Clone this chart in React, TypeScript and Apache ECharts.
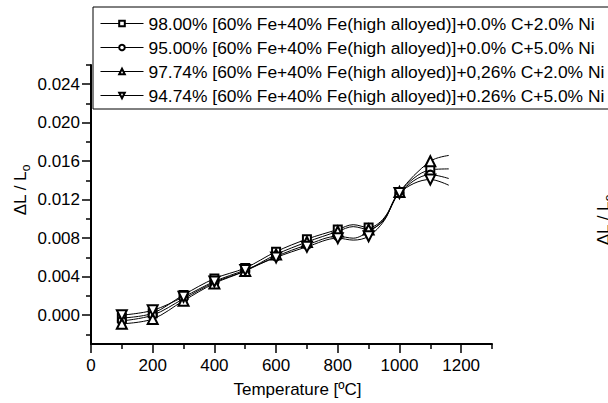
import React, { useEffect, useRef } from 'react';
import * as echarts from 'echarts';

const temperatures = [100, 200, 300, 400, 500, 600, 700, 800, 850, 900, 950, 1000, 1100, 1160];
const markedTemperatures = [100, 200, 300, 400, 500, 600, 700, 800, 900, 1000, 1100];

const seriesNames = [
  '98.00% [60% Fe+40% Fe(high alloyed)]+0.0% C+2.0% Ni',
  '95.00% [60% Fe+40% Fe(high alloyed)]+0.0% C+5.0% Ni',
  '97.74% [60% Fe+40% Fe(high alloyed)]+0,26% C+2.0% Ni',
  '94.74% [60% Fe+40% Fe(high alloyed)]+0.26% C+5.0% Ni',
];

const fe98Ni2 = [-0.0003, 0.0002, 0.0021, 0.0038, 0.0049, 0.0066, 0.0079, 0.0089, 0.0094, 0.0091, 0.0101, 0.0128, 0.0151, 0.0152];
const fe95Ni5 = [-0.0006, 0.0000, 0.0017, 0.0034, 0.0046, 0.0061, 0.0073, 0.0082, 0.0080, 0.0087, 0.0099, 0.0127, 0.0146, 0.0142];
const fe9774C026Ni2 = [-0.0009, -0.0004, 0.0015, 0.0033, 0.0046, 0.0063, 0.0076, 0.0087, 0.0092, 0.0089, 0.0100, 0.0128, 0.0160, 0.0166];
const fe9474C026Ni5 = [0.0000, 0.0005, 0.0019, 0.0035, 0.0047, 0.0060, 0.0071, 0.0080, 0.0078, 0.0082, 0.0098, 0.0127, 0.0141, 0.0135];

const xMajorTicks = [0, 200, 400, 600, 800, 1000, 1200];
const xMinorTicks = [100, 300, 500, 700, 900, 1100, 1300];
const yMajorTicks = [0, 0.004, 0.008, 0.012, 0.016, 0.02, 0.024];
const yMinorTicks = [-0.002, 0.002, 0.006, 0.01, 0.014, 0.018, 0.022, 0.026];

const seriesValues = [fe98Ni2, fe95Ni5, fe9774C026Ni2, fe9474C026Ni5];
const seriesSymbols = ['emptyRect', 'emptyCircle', 'emptyTriangle', 'emptyTriangle'];
const seriesSymbolRotate = [0, 0, 0, 180];
const seriesSymbolSize = [8, 8, 10, 10];

const FONT = "'Liberation Sans', Arial, sans-serif";

export default function App() {
  const ref = useRef<HTMLDivElement>(null);
  useEffect(() => {
    document.body.style.margin = '0';
    if (!ref.current) return;
    const chart = echarts.init(ref.current, null, { renderer: 'svg' });
    const series = seriesValues.map((vals, si) => ({
      type: 'line',
      name: seriesNames[si],
      symbol: seriesSymbols[si],
      symbolSize: seriesSymbolSize[si],
      symbolRotate: seriesSymbolRotate[si],
      smooth: 0.35,
      xAxisIndex: 0,
      yAxisIndex: 0,
      lineStyle: { color: '#000', width: 1 },
      itemStyle: { color: '#000', borderColor: '#000', borderWidth: 1 },
      data: temperatures.map((t, i) => ({
        value: [t, vals[i]],
        symbol: markedTemperatures.includes(t) ? seriesSymbols[si] : 'none',
      })),
    }));
    const tickLine = { color: '#000', width: 1.5 };
    chart.setOption({
      animation: false,
      backgroundColor: '#fff',
      textStyle: { fontFamily: FONT },
      grid: { left: 91, top: 65, width: 401, height: 279, containLabel: false },
      legend: {
        orient: 'vertical',
        left: 93,
        top: 7,
        borderColor: '#000',
        borderWidth: 1,
        padding: [8, 24, 5, 7],
        itemGap: 7,
        itemWidth: 43,
        itemHeight: 7,
        data: seriesNames,
        lineStyle: { width: 1 },
        itemStyle: { borderWidth: 1 },
        textStyle: { fontFamily: FONT, fontSize: 17.4, color: '#000' },
      },
      xAxis: [
        {
          type: 'value', position: 'bottom', min: 0, max: 1300,
          axisLine: { show: true, onZero: false, lineStyle: { color: '#000', width: 2 } },
          axisTick: { show: true, length: 5, customValues: xMinorTicks, lineStyle: tickLine },
          axisLabel: { show: false },
          splitLine: { show: false },
        },
        {
          type: 'value', position: 'bottom', min: 0, max: 1300,
          axisLine: { show: false, onZero: false },
          axisTick: { show: true, length: 9, customValues: xMajorTicks, lineStyle: tickLine },
          axisLabel: {
            show: true, margin: 13, fontSize: 17, color: '#000', fontFamily: FONT,
            customValues: xMajorTicks,
            formatter: (v: number) => String(v),
          },
          splitLine: { show: false },
          name: 'Temperature [ºC]',
          nameLocation: 'middle',
          nameGap: 37,
          nameTextStyle: { fontSize: 17, color: '#000', fontFamily: FONT, padding: [0, 0, 0, 12] },
        },
      ],
      yAxis: [
        {
          type: 'value', position: 'left', min: -0.003, max: 0.026,
          axisLine: { show: true, onZero: false, lineStyle: { color: '#000', width: 2 } },
          axisTick: { show: true, length: 5, customValues: yMinorTicks, lineStyle: tickLine },
          axisLabel: { show: false },
          splitLine: { show: false },
        },
        {
          type: 'value', position: 'left', min: -0.003, max: 0.026,
          axisLine: { show: false, onZero: false },
          axisTick: { show: true, length: 9, customValues: yMajorTicks, lineStyle: tickLine },
          axisLabel: {
            show: true, margin: 11, fontSize: 17, color: '#000', fontFamily: FONT,
            customValues: yMajorTicks,
            formatter: (v: number) => v.toFixed(3),
          },
          splitLine: { show: false },
        },
      ],
      graphic: [
        {
          type: 'text', x: 20, y: 190, rotation: Math.PI / 2,
          style: {
            text: '{a|ΔL / L}{b|o}', fill: '#000', align: 'center', verticalAlign: 'middle',
            rich: {
              a: { fontSize: 17, fontFamily: FONT, fill: '#000', lineHeight: 24, verticalAlign: 'middle' },
              b: { fontSize: 12, fontFamily: FONT, fill: '#000', lineHeight: 24, verticalAlign: 'bottom' },
            },
          },
        },
        {
          type: 'text', x: 603, y: 220, rotation: Math.PI / 2,
          style: {
            text: '{a|ΔL / L}{b|o}', fill: '#000', align: 'center', verticalAlign: 'middle',
            rich: {
              a: { fontSize: 17, fontFamily: FONT, fill: '#000', lineHeight: 24, verticalAlign: 'middle' },
              b: { fontSize: 12, fontFamily: FONT, fill: '#000', lineHeight: 24, verticalAlign: 'bottom' },
            },
          },
        },
      ],
      series,
    });
    return () => chart.dispose();
  }, []);
  return <div ref={ref} style={{ width: 608, height: 403 }} />;
}
